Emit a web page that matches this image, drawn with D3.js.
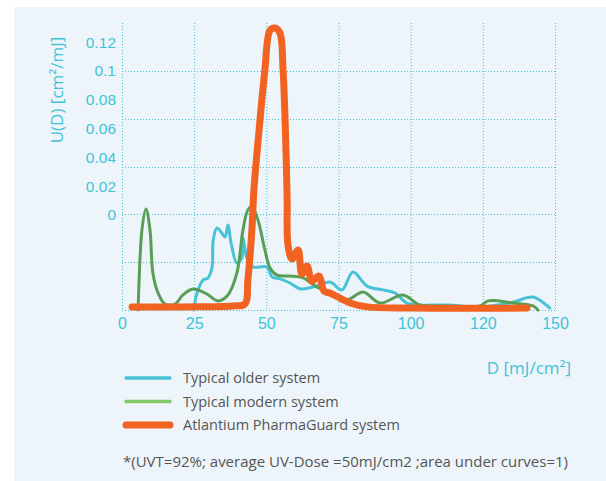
<!DOCTYPE html>
<html>
<head>
<meta charset="utf-8">
<script src="https://cdn.jsdelivr.net/npm/d3@7"></script>
<style>
  html, body { margin: 0; padding: 0; background: #ffffff; }
  svg { display: block; font-family: "Open Sans", sans-serif; }
</style>
</head>
<body>
<script>
let width = 606;
let height = 481;

// x axis: gridlines every 25 units, printed labels as in the original
let xTicks = [0, 25, 50, 75, 100, 125, 150];
let xTickLabels = ['0', '25', '50', '75', '100', '120', '150'];

// y axis labels (placed on their own scale, as printed)
let yLabelTicks = [0, 0.02, 0.04, 0.06, 0.08, 0.1, 0.12];
let yLabelText = ['0', '0.02', '0.04', '0.06', '0.08', '0.1', '0.12'];
let yGrid = [0.02, 0.04, 0.06, 0.08, 0.1];

let seriesNames = ['Typical older system', 'Typical modern system', 'Atlantium PharmaGuard system'];

let olderD = [24.9, 26.0, 28.1, 29.8, 31.2, 31.6, 32.9, 34.6, 35.7, 36.7, 37.8, 39.8, 41.6, 41.9, 43.3, 45.4, 50.2, 52.0, 54.7, 58.2, 61.7, 66.2, 72.0, 76.2, 80.0, 84.9, 90.4, 94.6, 98.7, 102.2, 112.6, 124.0, 135.4, 142.4, 148.2];
let olderU = [0, 0.0071, 0.0125, 0.0134, 0.018, 0.0293, 0.0343, 0.0322, 0.0305, 0.0355, 0.028, 0.0196, 0.0222, 0.0301, 0.0217, 0.018, 0.018, 0.0138, 0.013, 0.0113, 0.0088, 0.0096, 0.0117, 0.0084, 0.0159, 0.01, 0.0084, 0.0071, 0.0029, 0.0021, 0.0021, 0.0013, 0.0033, 0.0054, 0.0008];

let modernD = [5.5, 5.6, 6.9, 8.3, 9.7, 10.7, 12.5, 14.9, 18.4, 21.1, 24.6, 29.4, 33.3, 36.7, 39.8, 41.9, 43.6, 45.0, 47.1, 49.5, 51.3, 53.7, 58.2, 62.7, 67.5, 73.1, 77.9, 83.5, 89.4, 97.3, 103.2, 112.6, 124.0, 126.8, 135.4, 142.4, 144.1];
let modernU = [0, 0.002, 0.0334, 0.0422, 0.0334, 0.0155, 0.0071, 0.0025, 0.0025, 0.0063, 0.0088, 0.0067, 0.0038, 0.0063, 0.0155, 0.0334, 0.0418, 0.0431, 0.0376, 0.0251, 0.0176, 0.0146, 0.0142, 0.0134, 0.0096, 0.0071, 0.0042, 0.0075, 0.0029, 0.0063, 0.0021, 0.0017, 0.0017, 0.0038, 0.0029, 0.0017, 0];

let pharmaD = [3.5, 21.1, 38.4, 42.6, 43.6, 45.0, 45.7, 47.8, 49.5, 51.3, 53.0, 54.7, 55.8, 56.5, 57.2, 57.5, 58.9, 61.0, 62.3, 64.1, 65.8, 68.2, 70.0, 72.0, 75.5, 79.0, 84.9, 100.8, 140.3];
let pharmaU = [0.0013, 0.0013, 0.0017, 0.0025, 0.0125, 0.0334, 0.0502, 0.0794, 0.1003, 0.117, 0.1179, 0.1158, 0.1003, 0.0794, 0.0472, 0.0272, 0.0213, 0.0251, 0.015, 0.0184, 0.0121, 0.0142, 0.0079, 0.0071, 0.005, 0.0029, 0.0013, 0.0008, 0.0008];

let cyan = '#3ec3d7';
let colours = ['#47c2d6', '#589f55', '#f26322'];
let legendColours = ['#47c2d6', '#84c866', '#f26322'];
let widths = [3, 3, 7];

let svg = d3.select('body').append('svg')
  .attr('width', width)
  .attr('height', height);

// panel background
svg.append('rect')
  .attr('x', 14).attr('y', 7)
  .attr('width', width - 14).attr('height', height - 7)
  .attr('fill', '#edf5fb');

let x = d3.scaleLinear().domain([0, 150]).range([122, 555]);
let y = d3.scaleLinear().domain([0, 0.12]).range([310, 23]);
let yLabel = d3.scaleLinear().domain([0, 0.1]).range([215, 71]);

// grid
let grid = svg.append('g')
  .attr('stroke', cyan)
  .attr('stroke-width', 1)
  .attr('stroke-dasharray', '1,2');

grid.selectAll('.vg')
  .data(xTicks)
  .enter().append('line')
  .attr('x1', (d) => x(d) + 0.5).attr('x2', (d) => x(d) + 0.5)
  .attr('y1', y(0.12)).attr('y2', y(0));

grid.selectAll('.hg')
  .data(yGrid.concat([0]))
  .enter().append('line')
  .attr('x1', x(0)).attr('x2', x(150))
  .attr('y1', (d) => Math.round(y(d)) + 0.5).attr('y2', (d) => Math.round(y(d)) + 0.5);

// x axis labels
let xAxis = svg.append('g')
  .attr('transform', 'translate(0,' + y(0) + ')')
  .call(d3.axisBottom(x)
    .tickValues(xTicks)
    .tickSize(0)
    .tickPadding(8)
    .tickFormat((d, i) => xTickLabels[i]));
xAxis.select('.domain').remove();
xAxis.selectAll('text')
  .attr('fill', cyan)
  .style('font-size', '16px');

// y axis labels
let yAxis = svg.append('g')
  .attr('transform', 'translate(' + x(0) + ',0)')
  .call(d3.axisLeft(yLabel)
    .tickValues(yLabelTicks)
    .tickSize(0)
    .tickPadding(6)
    .tickFormat((d, i) => yLabelText[i]));
yAxis.select('.domain').remove();
yAxis.selectAll('text')
  .attr('fill', cyan)
  .style('font-size', '15.5px');

// axis titles
svg.append('text')
  .attr('transform', 'translate(63,90) rotate(-90)')
  .attr('text-anchor', 'middle')
  .attr('fill', cyan)
  .style('font-size', '17px')
  .text('U(D) [cm²/mJ]');

svg.append('text')
  .attr('x', 571).attr('y', 374)
  .attr('text-anchor', 'end')
  .attr('fill', cyan)
  .style('font-size', '17px')
  .text('D [mJ/cm²]');

// curves
let line = d3.line()
  .x((d) => x(d[0]))
  .y((d) => y(d[1]))
  .curve(d3.curveCatmullRom.alpha(0.5));

let series = [
  d3.zip(olderD, olderU),
  d3.zip(modernD, modernU),
  d3.zip(pharmaD, pharmaU)
];

series.forEach((pts, i) => {
  svg.append('path')
    .datum(pts)
    .attr('d', line)
    .attr('fill', 'none')
    .attr('stroke', colours[i])
    .attr('stroke-width', widths[i])
    .attr('stroke-linejoin', 'round')
    .attr('stroke-linecap', 'round');
});

// legend
let legend = svg.append('g');
seriesNames.forEach((name, i) => {
  let ly = 378 + i * 23.5;
  legend.append('line')
    .attr('x1', 126).attr('x2', 170)
    .attr('y1', ly).attr('y2', ly)
    .attr('stroke', legendColours[i])
    .attr('stroke-width', widths[i] === 7 ? 7 : 3.5)
    .attr('stroke-linecap', 'round');
  legend.append('text')
    .attr('x', 183).attr('y', ly + 5)
    .attr('fill', '#555555')
    .style('font-size', '14.5px')
    .text(name);
});

svg.append('text')
  .attr('x', 123).attr('y', 467)
  .attr('fill', '#555555')
  .style('font-size', '15px')
  .text('*(UVT=92%; average UV-Dose =50mJ/cm2 ;area under curves=1)');
</script>
</body>
</html>
